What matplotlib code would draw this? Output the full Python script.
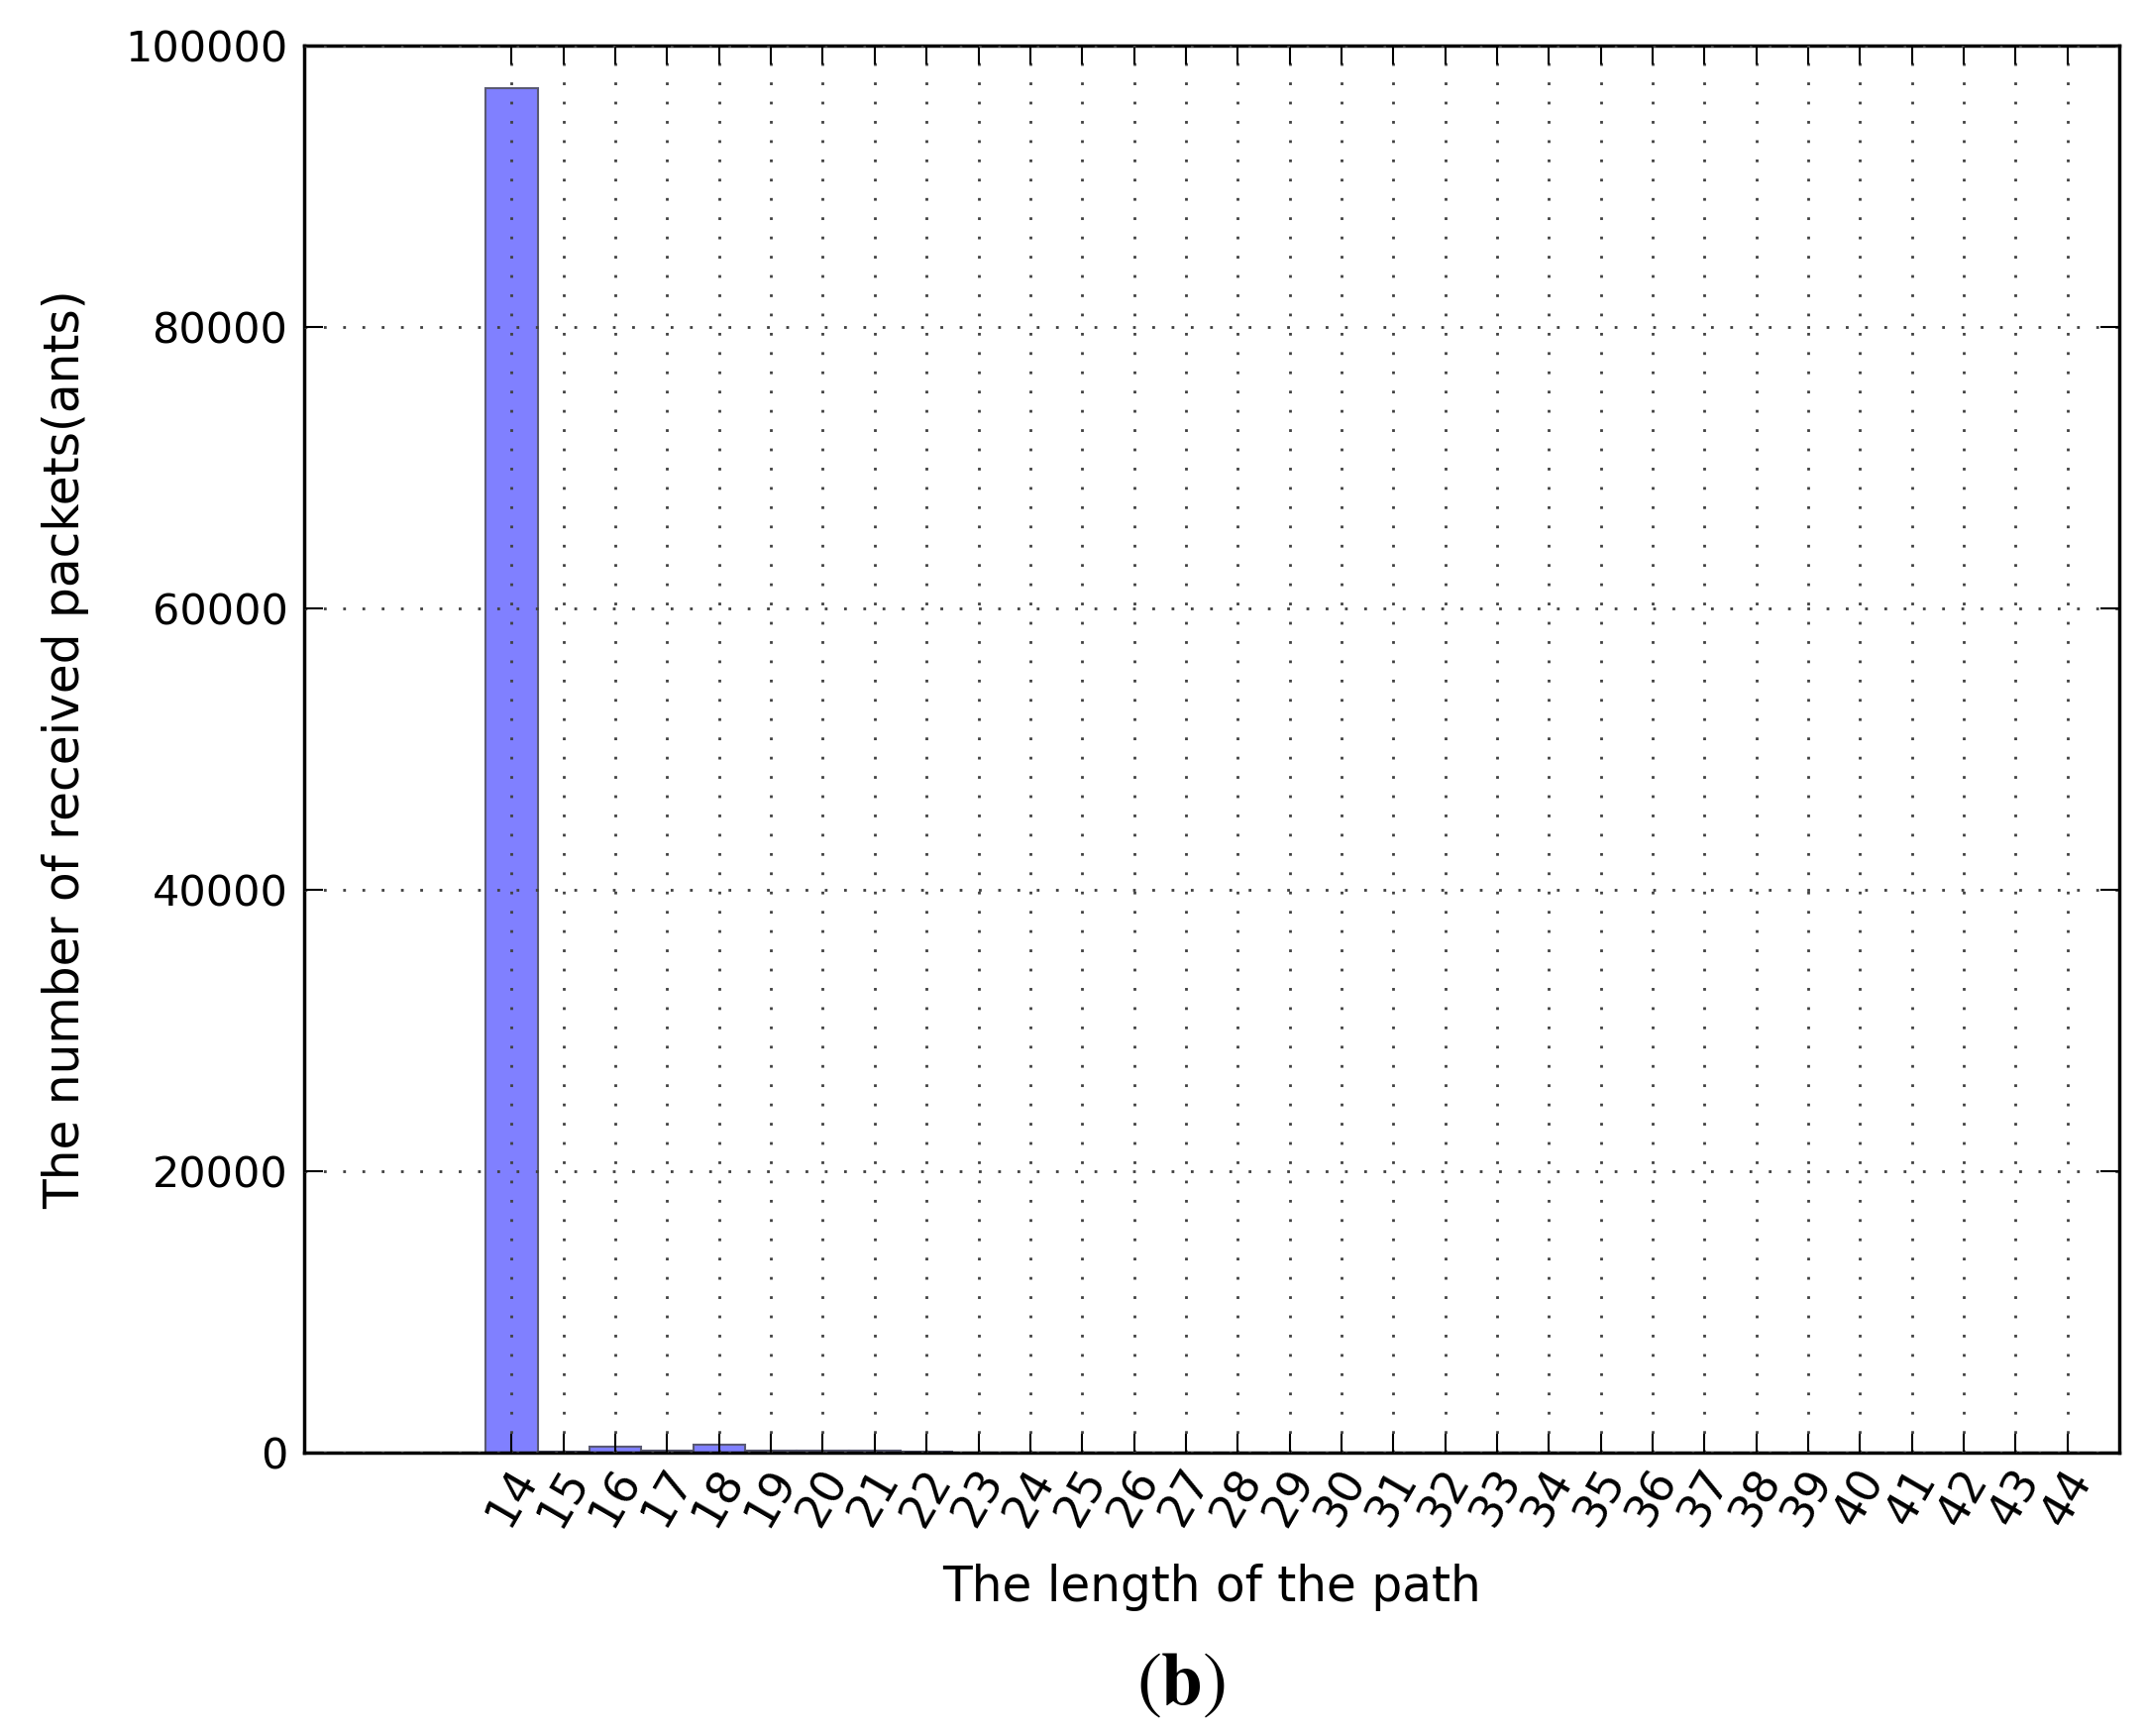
import numpy as np
import matplotlib
matplotlib.use('Agg')
import matplotlib.pyplot as plt

# path length vs number of received packets (ants)
path_length = list(range(14, 45))
received = [97000, 60, 420, 120, 600, 150, 120, 130, 100] + [0] * 22

plt.rcParams['mathtext.fontset'] = 'stix'

fig = plt.figure(figsize=(21.67, 17.52), dpi=100)
ax = fig.add_axes([0.1417, 0.1632, 0.8454, 0.8105])

ax.bar(path_length, received, width=1.0, align='center',
       color=(0.5, 0.5, 1.0), edgecolor=(0.35, 0.35, 0.45), linewidth=1.5)

ax.set_xlim(10, 45)
ax.set_ylim(0, 100000)
ax.set_xticks(path_length)
ax.set_xticklabels([str(v) for v in path_length], rotation=60, fontsize=33)
ax.set_yticks(np.arange(0, 100001, 20000))
ax.tick_params(axis='y', labelsize=31, pad=12)
ax.tick_params(axis='x', pad=6)
ax.tick_params(direction='in', length=14, width=1.5, top=True, right=True)

ax.grid(True, color='0.25', linestyle=(0, (1, 6)), linewidth=2.0)
ax.set_axisbelow(False)
for s in ax.spines.values():
    s.set_linewidth(2.5)

ax.set_xlabel('The length of the path', fontsize=35, labelpad=22)
ax.set_ylabel('The number of received packets(ants)', fontsize=35, labelpad=26)

fig.text(0.550, 0.030, r'$(\mathbf{b})$', fontsize=54,
         ha='center', va='center')

fig.savefig('out.png', dpi=100)
